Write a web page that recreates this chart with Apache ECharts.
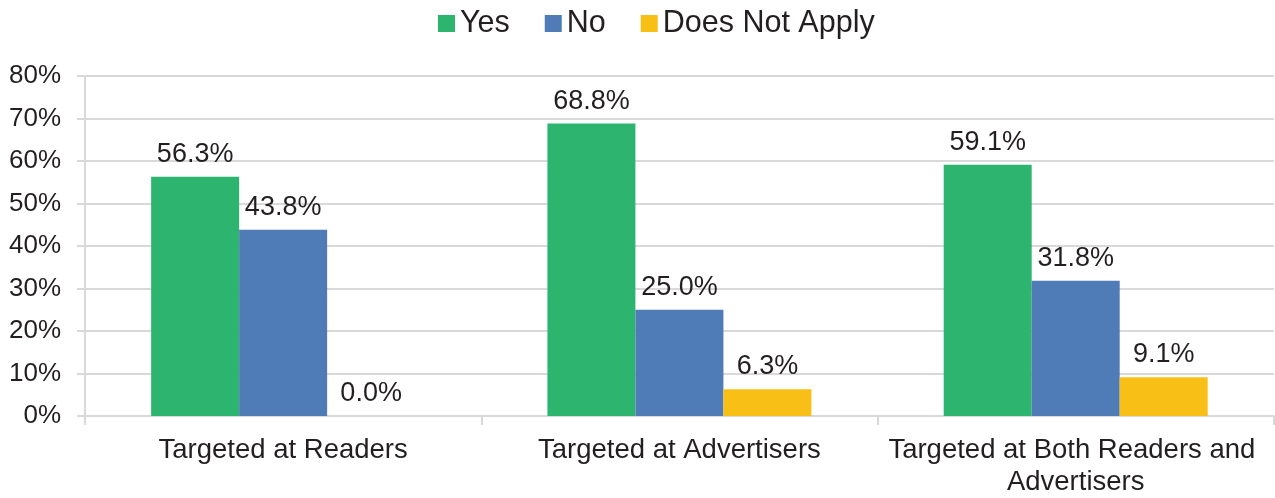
<!DOCTYPE html>
<html>
<head>
<meta charset="utf-8">
<script src="https://cdn.jsdelivr.net/npm/echarts@6/dist/echarts.min.js"></script>
<style>
  html, body { margin: 0; padding: 0; background: #ffffff; }
  #chart { width: 1275px; height: 498px; }
</style>
</head>
<body>
<div id="chart"></div>
<script>
// Survey answers by type of targeting (percent of respondents)
const categories = ['Targeted at Readers', 'Targeted at Advertisers', 'Targeted at Both Readers and Advertisers'];
const yesValues = [56.3, 68.8, 59.1];
const noValues = [43.8, 25.0, 31.8];
const notApplyValues = [0.0, 6.3, 9.1];
const seriesNames = ['Yes', 'No', 'Does Not Apply'];
const seriesColors = ['#2db46e', '#4f7bb7', '#f8bf17'];
const yTicks = { min: 0, max: 80, interval: 10 };

const FONT = 'Liberation Sans, Arial, sans-serif';
const TEXT = '#231f20';
const GRID = '#d9d9d9';

const chart = echarts.init(document.getElementById('chart'), null, { renderer: 'canvas' });

function barSeries(name, data, color) {
  return {
    name: name,
    type: 'bar',
    data: data,
    barWidth: 88,
    barGap: '0%',
    itemStyle: { color: color },
    label: {
      show: true,
      position: 'top',
      distance: 9,
      color: TEXT,
      fontFamily: FONT,
      fontSize: 27,
      formatter: p => p.value.toFixed(1) + '%'
    }
  };
}

chart.setOption({
  animation: false,
  backgroundColor: '#ffffff',
  legend: {
    top: 3,
    left: 433,
    itemWidth: 17,
    itemHeight: 17,
    itemGap: 35,
    icon: 'rect',
    textStyle: { color: TEXT, fontFamily: FONT, fontSize: 30.5 },
    data: seriesNames
  },
  grid: { left: 85, right: -3, top: 76, bottom: 80, containLabel: false },
  xAxis: {
    type: 'category',
    data: categories,
    axisLine: { show: true, lineStyle: { color: GRID, width: 2 } },
    axisTick: { show: true, length: 9, alignWithLabel: false, lineStyle: { color: GRID, width: 2 } },
    axisLabel: {
      color: TEXT,
      fontFamily: FONT,
      fontSize: 27.5,
      margin: 18,
      lineHeight: 32,
      width: 394,
      overflow: 'break',
      interval: 0
    }
  },
  yAxis: {
    type: 'value',
    min: yTicks.min,
    max: yTicks.max,
    interval: yTicks.interval,
    axisLine: { show: true, lineStyle: { color: GRID, width: 2 } },
    axisTick: { show: true, length: 8, lineStyle: { color: GRID, width: 2 } },
    splitLine: { show: true, lineStyle: { color: GRID, width: 2 } },
    axisLabel: {
      color: TEXT,
      fontFamily: FONT,
      fontSize: 26,
      margin: 24,
      formatter: v => v + '%'
    }
  },
  series: [
    barSeries(seriesNames[0], yesValues, seriesColors[0]),
    barSeries(seriesNames[1], noValues, seriesColors[1]),
    barSeries(seriesNames[2], notApplyValues, seriesColors[2])
  ]
});
</script>
</body>
</html>
